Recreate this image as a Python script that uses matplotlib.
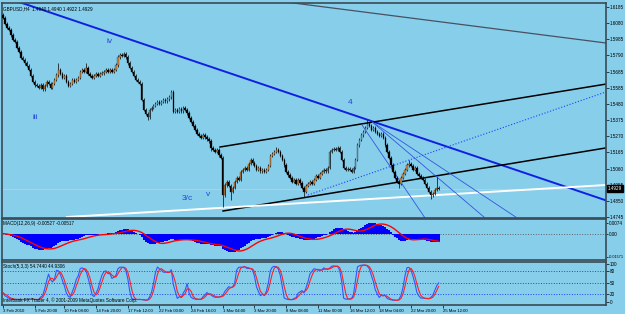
import matplotlib
matplotlib.use("Agg")
import matplotlib.pyplot as plt
import pandas as pd

HEADER = "GBPUSD,H4  1.4940 1.4940 1.4922 1.4929"
MACD_HEADER = "MACD(12,26,9) -0.00527 -0.00517"
STOCH_HEADER = "Stoch(5,3,3) 54.7440 44.9306"
FOOTER = "Interbank FX Trader 4, \u00a9 2001-2009 MetaQuotes Software Corp."

# H4 closes, one per bar
FIRST_OPEN = 1.6060
CLOSES = [
    1.6039, 1.6000, 1.5974, 1.5961, 1.5928, 1.5896, 1.5883, 1.5844, 1.5818, 1.5779,
    1.5766, 1.5746, 1.5727, 1.5701, 1.5662, 1.5623, 1.5603, 1.5597, 1.5584, 1.5603,
    1.5577, 1.5597, 1.5623, 1.5610, 1.5584, 1.5610, 1.5636, 1.5668, 1.5701, 1.5675,
    1.5649, 1.5662, 1.5623, 1.5597, 1.5610, 1.5636, 1.5623, 1.5636, 1.5649, 1.5688,
    1.5701, 1.5688, 1.5714, 1.5675, 1.5662, 1.5649, 1.5662, 1.5675, 1.5662, 1.5675,
    1.5681, 1.5688, 1.5701, 1.5688, 1.5701, 1.5688, 1.5701, 1.5733, 1.5785, 1.5798,
    1.5792, 1.5805, 1.5785, 1.5746, 1.5714, 1.5688, 1.5662, 1.5636, 1.5623, 1.5610,
    1.5506, 1.5441, 1.5415, 1.5395, 1.5441, 1.5454, 1.5467, 1.5480, 1.5493, 1.5480,
    1.5493, 1.5506, 1.5499, 1.5512, 1.5525, 1.5558, 1.5428, 1.5441, 1.5428, 1.5447,
    1.5434, 1.5454, 1.5441, 1.5421, 1.5389, 1.5363, 1.5337, 1.5311, 1.5285, 1.5272,
    1.5259, 1.5278, 1.5265, 1.5252, 1.5239, 1.5194, 1.5181, 1.5168, 1.5181, 1.5148,
    1.5129, 1.4888, 1.4953, 1.4973, 1.4947, 1.4908, 1.4934, 1.4973, 1.4999, 1.4986,
    1.5038, 1.5051, 1.5064, 1.5051, 1.5090, 1.5116, 1.5096, 1.5077, 1.5051, 1.5064,
    1.5044, 1.5051, 1.5038, 1.5051, 1.5077, 1.5142, 1.5155, 1.5168, 1.5181, 1.5168,
    1.5142, 1.5116, 1.5083, 1.5038, 1.5018, 1.4999, 1.4973, 1.4986, 1.4960, 1.4986,
    1.4966, 1.4934, 1.4908, 1.4947, 1.4960, 1.4973, 1.4960, 1.4986, 1.5012, 1.4999,
    1.5025, 1.5038, 1.5051, 1.5044, 1.5064, 1.5168, 1.5181, 1.5187, 1.5181, 1.5194,
    1.5168, 1.5116, 1.5064, 1.5051, 1.5057, 1.5051, 1.5038, 1.5064, 1.5116, 1.5213,
    1.5246, 1.5278, 1.5298, 1.5324, 1.5350, 1.5337, 1.5311, 1.5324, 1.5298, 1.5285,
    1.5272, 1.5285, 1.5259, 1.5213, 1.5168, 1.5129, 1.5083, 1.5038, 1.4999, 1.4973,
    1.4960, 1.4999, 1.5025, 1.5051, 1.5083, 1.5090, 1.5077, 1.5051, 1.5064, 1.5025,
    1.5012, 1.4999, 1.4986, 1.4960, 1.4934, 1.4908, 1.4888, 1.4895, 1.4921, 1.4934,
    1.4929,
]
# visible long shadows (bar index -> price)
SPIKE_HIGHS = {0: 1.6071, 28: 1.5748, 42: 1.5745, 61: 1.5818, 85: 1.5571,
               138: 1.5200, 184: 1.5376, 205: 1.5116, 219: 1.5006}
SPIKE_LOWS = {73: 1.5376, 105: 1.5171, 111: 1.4810, 115: 1.4856, 152: 1.4875,
              200: 1.4934, 216: 1.4863}
WICK = 0.0010
BID = 1.4929

# trend lines: (bar1, price1, bar2, price2)
LINE_WAVE = (5.05, 1.6156, 304.5, 1.4853)
LINE_GRAY = (142.4, 1.6143, 304.5, 1.5876)
CHANNEL_TOP = (109.6, 1.5200, 304.5, 1.5609)
CHANNEL_BOTTOM = (111.1, 1.4784, 304.5, 1.5194)
LINE_WHITE = (32.3, 1.4745, 304.5, 1.4953)
LINE_DOTTED = (154.0, 1.4888, 304.5, 1.5558)
FAN_LINES = [(181.3, 1.5343, 213.1, 1.4739),
             (186.4, 1.5363, 243.4, 1.4739),
             (186.4, 1.5363, 259.6, 1.4739)]

# elliott wave labels: (text, bar, price)
WAVE_LABELS = [("iv", 54.0, 1.5883), ("iii", 16.2, 1.5389), ("3/c", 93.0, 1.4862),
               ("v", 103.5, 1.4888), ("4", 175.3, 1.5486)]

PRICE_TICKS = [1.4745 + 0.0105 * k for k in range(14)]
PRICE_LABELS = ["1.4745", "1.4850", "1.4955", "1.5060", "1.5165", "1.5270", "1.5375",
                "1.5480", "1.5585", "1.5685", "1.5790", "1.5985", "1.6080", "1.6185"]
MACD_TICKS = [0.0074, 0.0, -0.01571]
MACD_LABELS = ["0.0074", "0.00", "-0.01571"]
STOCH_TICKS = [100, 80, 50, 20, 0]
STOCH_LEVELS = [80, 50, 20]

TIME_TICKS = [0, 16, 31, 47, 63, 79, 95, 111, 127, 143, 159, 175, 190, 206, 222]
TIME_LABELS = ["3 Feb 2010", "5 Feb 20:00", "10 Feb 08:00", "14 Feb 20:00",
               "17 Feb 12:00", "22 Feb 00:00", "24 Feb 16:00", "1 Mar 04:00",
               "3 Mar 20:00", "8 Mar 08:00", "11 Mar 00:00", "16 Mar 12:00",
               "18 Mar 04:00", "22 Mar 20:00", "25 Mar 12:00"]

BG = "#87ceeb"
FRAME = "#3a4a55"
FS = 3.3
plt.rcParams["font.family"] = ["Liberation Sans", "DejaVu Sans"]

close = pd.Series(CLOSES)
opens = pd.Series([FIRST_OPEN] + CLOSES[:-1])
highs = pd.concat([opens, close], axis=1).max(axis=1) + WICK
lows = pd.concat([opens, close], axis=1).min(axis=1) - WICK
for i, v in SPIKE_HIGHS.items():
    highs[i] = v
for i, v in SPIKE_LOWS.items():
    lows[i] = v
bars = list(range(len(CLOSES)))

macd = close.ewm(span=12, adjust=False).mean() - close.ewm(span=26, adjust=False).mean()
signal = macd.rolling(9, min_periods=1).mean()
hh = highs.rolling(5, min_periods=1).max()
ll = lows.rolling(5, min_periods=1).min()
k_line = 100 * (close - ll).rolling(3, min_periods=1).sum() / (hh - ll).rolling(3, min_periods=1).sum()
d_line = k_line.rolling(3, min_periods=1).mean()

W, H = 625, 314
fig = plt.figure(figsize=(6.25, 3.14), dpi=100, facecolor=BG)


def panel(top, bottom):
    ax = fig.add_axes([2 / W, 1 - bottom / H, 604 / W, (bottom - top) / H])
    ax.set_facecolor(BG)
    ax.set_xlim(-0.5, 304.5)
    for s in ax.spines.values():
        s.set_color(FRAME)
        s.set_linewidth(1.2)
    ax.yaxis.tick_right()
    ax.tick_params(axis="y", labelsize=FS, length=2, pad=1, width=0.5, colors="black")
    ax.tick_params(axis="x", length=0, labelbottom=False)
    return ax


ax = panel(3, 218)
ax.set_ylim(1.47385, 1.61360)
ax.set_yticks(PRICE_TICKS)
ax.set_yticklabels(PRICE_LABELS)

ax.axhline(BID, color="#c8c8c8", lw=0.8, zorder=1)
for ln, col, lw, ls in [(LINE_WAVE, "#1020e0", 1.4, "-"), (LINE_GRAY, "#4a5060", 0.9, "-"),
                        (CHANNEL_TOP, "black", 1.1, "-"), (CHANNEL_BOTTOM, "black", 1.1, "-"),
                        (LINE_WHITE, "white", 1.4, "-"), (LINE_DOTTED, "#2040ff", 0.8, ":")]:
    ax.plot([ln[0], ln[2]], [ln[1], ln[3]], color=col, lw=lw, ls=ls, zorder=2)
for ln in FAN_LINES:
    ax.plot([ln[0], ln[2]], [ln[1], ln[3]], color="#3355e0", lw=0.6, zorder=2)

ax.vlines(bars, lows, highs, color="black", lw=0.5, zorder=3)
up = close >= opens
body_bottom = pd.concat([opens, close], axis=1).min(axis=1)
body_h = (close - opens).abs().clip(lower=0.0003)
ax.bar([b for b, u in zip(bars, up) if u], body_h[up], bottom=body_bottom[up], width=0.7,
       color="#cd853f", edgecolor="#202020", linewidth=0.2, zorder=4)
ax.bar([b for b, u in zip(bars, up) if not u], body_h[~up], bottom=body_bottom[~up], width=0.7,
       color="black", edgecolor="black", linewidth=0.2, zorder=4)

for txt, b, p in WAVE_LABELS:
    ax.text(b, p, txt, color="#2244dd", fontsize=6, ha="center", va="center", zorder=5)
ax.text(0.002, 0.985, HEADER, transform=ax.transAxes, fontsize=FS, va="top", ha="left")
ax.text(1.003, BID, "1.4929", transform=ax.get_yaxis_transform(), fontsize=FS, color="white",
        va="center", ha="left", bbox=dict(facecolor="black", edgecolor="black", pad=0.6), zorder=6)

# MACD
axm = panel(219, 260)
axm.set_ylim(-0.0178, 0.0098)
axm.set_yticks(MACD_TICKS)
axm.set_yticklabels(MACD_LABELS)
axm.tick_params(axis="y", pad=0.5, length=1.5)
axm.get_yticklabels()[-1].set_fontsize(2.7)
axm.axhline(0, color="#606060", lw=0.7, ls=":", zorder=1)
axm.bar(bars, macd, width=1.0, color="#0000ff", linewidth=0, zorder=2)
axm.plot(bars, signal, color="#ff0000", lw=1.0, zorder=3)
axm.text(0.002, 0.95, MACD_HEADER, transform=axm.transAxes, fontsize=FS, va="top", ha="left")

# Stochastic
axs = panel(262, 305)
axs.set_ylim(-7.8, 103.9)
axs.set_yticks(STOCH_TICKS)
axs.set_yticklabels([str(t) for t in STOCH_TICKS])
for lv in STOCH_LEVELS:
    axs.axhline(lv, color="#2040ff", lw=0.7, ls=":", zorder=1)
axs.plot(bars, k_line, color="#3355ff", lw=0.8, zorder=2)
axs.plot(bars, d_line, color="#ff2020", lw=0.8, zorder=3)
axs.text(0.002, 0.95, STOCH_HEADER, transform=axs.transAxes, fontsize=FS, va="top", ha="left")
axs.text(0.002, 0.04, FOOTER, transform=axs.transAxes, fontsize=FS, va="bottom", ha="left")
axs.set_xticks(TIME_TICKS)
axs.set_xticklabels(TIME_LABELS, ha="left")
axs.tick_params(axis="x", length=2, width=0.5, labelsize=3.1, pad=1, labelbottom=True)

fig.savefig("out.png", dpi=100, facecolor=BG)
